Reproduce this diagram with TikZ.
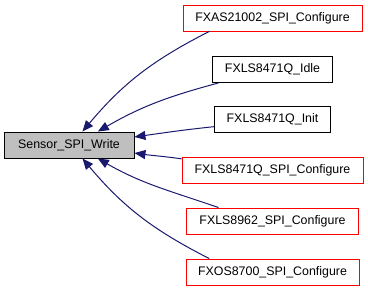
\documentclass[tikz,border=0pt]{standalone}
\usepackage{fontspec}
\setmainfont{Liberation Sans}
\usetikzlibrary{arrows.meta}

\definecolor{midnightblue}{RGB}{25,25,112}

\begin{document}
\begin{tikzpicture}[
		x=1pt, y=1pt,
		fn box/.style={rectangle, draw=black, fill=white, line width=0.9pt, minimum height=26pt, inner xsep=12pt, inner ysep=0pt, font=\fontsize{12.4}{14}\selectfont},
		this fn/.style={fn box, fill=black!25},
		call edge/.style={draw=midnightblue, line width=1pt, -{Triangle[length=11pt, width=9pt]}}
		]
		\useasboundingbox (0,0) rectangle (368,291);
		
		% =========================================================
		% Called function
		% =========================================================
		\node[this fn, minimum width=130pt] (sensor) at (69,146) {Sensor\_SPI\_Write};
		
		% =========================================================
		% Callers (red frame = no documentation)
		% =========================================================
		\foreach \name/\y/\w/\col/\label in {
			fxas/273/179/red/FXAS21002\_SPI\_Configure,
			idle/221.5/119/black/FXLS8471Q\_Idle,
			init/171.5/116/black/FXLS8471Q\_Init,
			spi/121/181/red/FXLS8471Q\_SPI\_Configure,
			xlsspi/70/172/red/FXLS8962\_SPI\_Configure,
			xosspi/19/173/red/FXOS8700\_SPI\_Configure} {
			\node[fn box, draw=\col, minimum width=\w pt] (\name) at (272.5,\y) {\label};
		}
		
		% =========================================================
		% Call edges
		% =========================================================
		\foreach \src/\from/\tip/\outang/\inang in {
			fxas/192/45/207/50,
			idle/194/25/195/30,
			init/187/7/186/8,
			spi/173/-7/172/-8,
			xlsspi/166/-25/161/-30,
			xosspi/168/-45/153/-50} {
			\draw[call edge] (\src.\from) to[out=\outang, in=\inang] (sensor.\tip);
		}
		
	\end{tikzpicture}
\end{document}
